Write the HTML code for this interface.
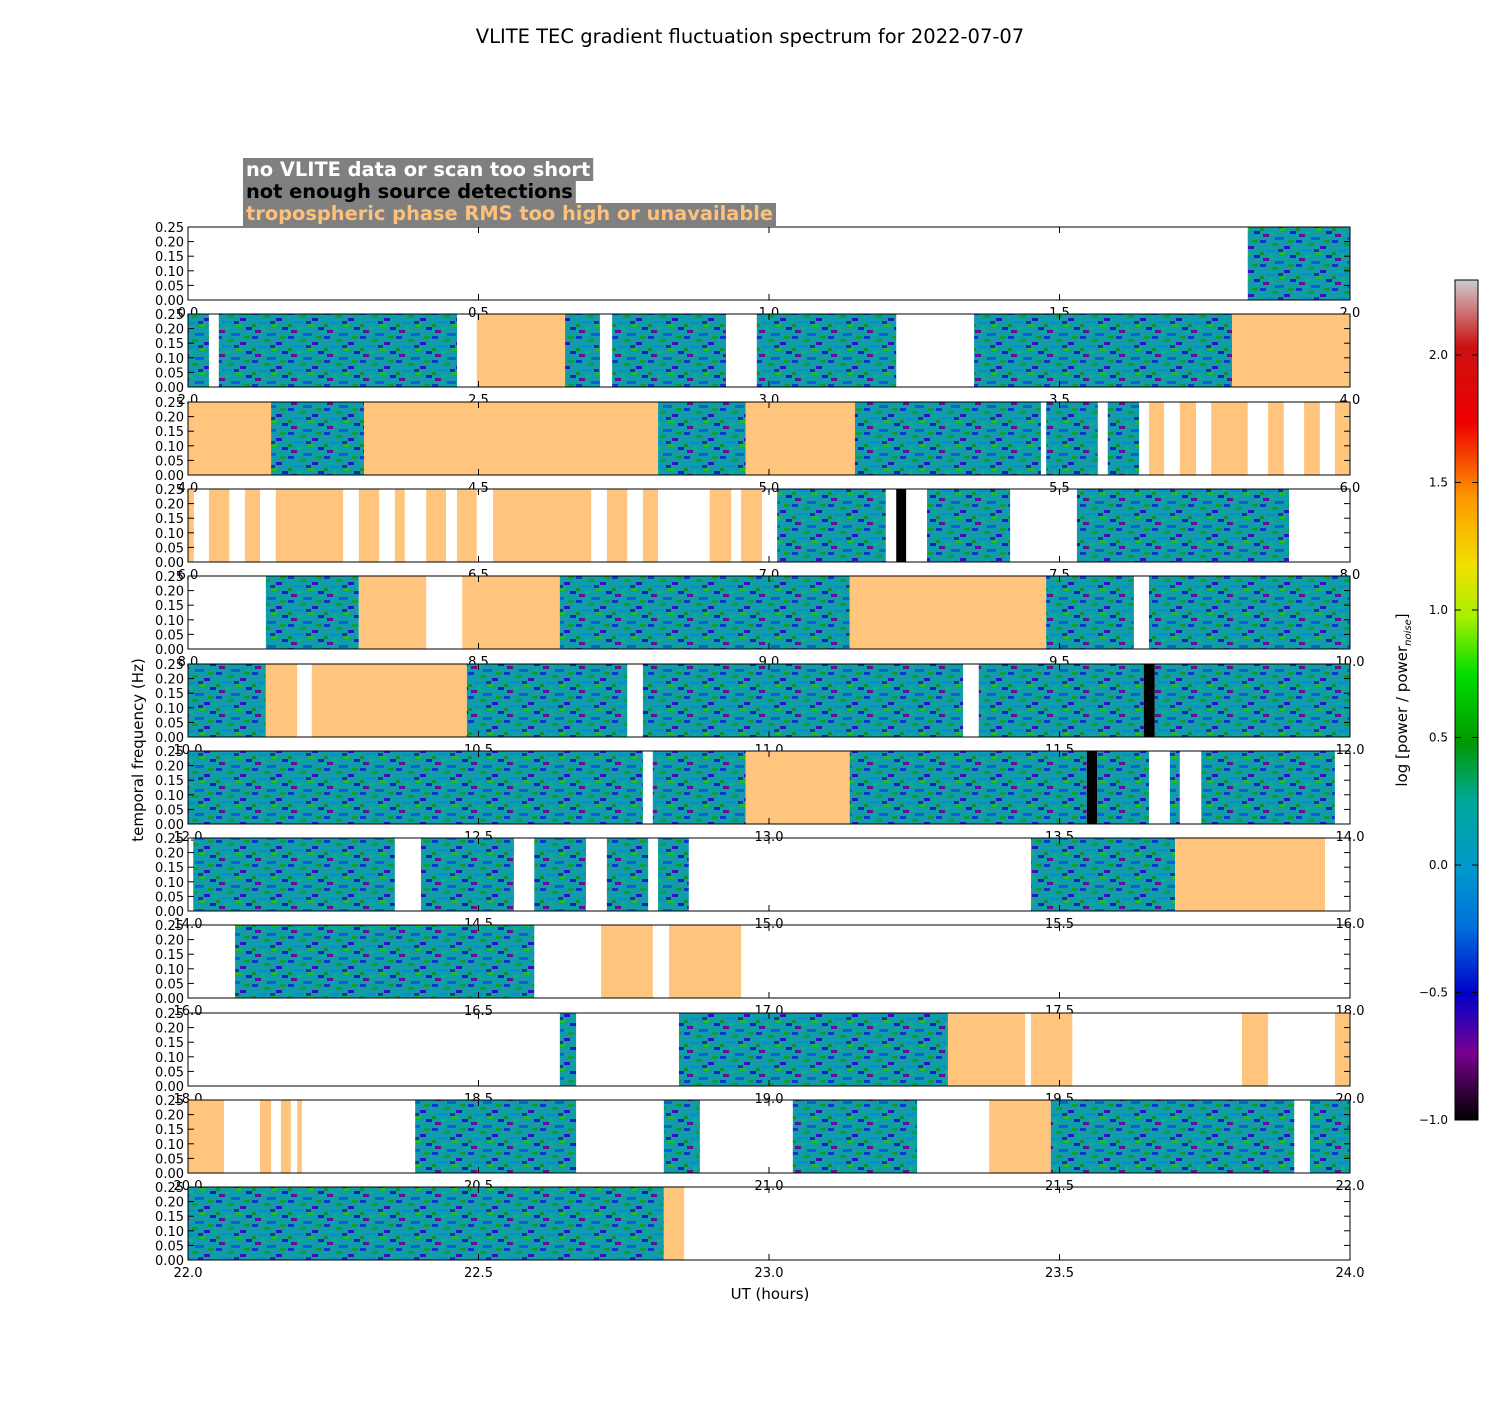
<!DOCTYPE html>
<html><head><meta charset="utf-8"><style>
body{margin:0;background:#fff;}
svg text{font-family:"DejaVu Sans","Liberation Sans",sans-serif;}
</style></head><body>
<svg id="chart" width="1500" height="1400" xmlns="http://www.w3.org/2000/svg">
<defs>
<pattern id="noise" width="36" height="24" patternUnits="userSpaceOnUse">
<rect width="36" height="24" fill="#129ca8"/>
<rect x="0" y="0" width="6" height="3" fill="#0a3ad0"/>
<rect x="12" y="3" width="6" height="3" fill="#10a020"/>
<rect x="24" y="6" width="6" height="3" fill="#3010c0"/>
<rect x="6" y="9" width="9" height="3" fill="#0090d8"/>
<rect x="20" y="12" width="6" height="3" fill="#22b830"/>
<rect x="30" y="15" width="6" height="3" fill="#1020c8"/>
<rect x="3" y="18" width="6" height="3" fill="#60109a"/>
<rect x="15" y="21" width="9" height="3" fill="#0c60d8"/>
<rect x="28" y="0" width="6" height="3" fill="#119a40"/>
<rect x="9" y="15" width="4" height="3" fill="#00c060"/>
<rect x="18" y="9" width="5" height="3" fill="#1a30b0"/>
<rect x="0" y="12" width="4" height="3" fill="#109030"/>
</pattern>
<linearGradient id="cmap" x1="0" y1="1" x2="0" y2="0">
<stop offset="0" stop-color="#000"/>
<stop offset="0.08" stop-color="#7a0090"/>
<stop offset="0.15" stop-color="#0000c8"/>
<stop offset="0.23" stop-color="#0070dd"/>
<stop offset="0.30" stop-color="#0099cc"/>
<stop offset="0.38" stop-color="#00a899"/>
<stop offset="0.45" stop-color="#009900"/>
<stop offset="0.53" stop-color="#00dd00"/>
<stop offset="0.60" stop-color="#aaf000"/>
<stop offset="0.66" stop-color="#f0e000"/>
<stop offset="0.74" stop-color="#ff9900"/>
<stop offset="0.83" stop-color="#ee0000"/>
<stop offset="0.92" stop-color="#cc1010"/>
<stop offset="1" stop-color="#cccccc"/>
</linearGradient>
</defs>
<text x="750" y="43" font-size="19.5" text-anchor="middle">VLITE TEC gradient fluctuation spectrum for 2022-07-07</text>
<g>
<rect id="lb1" x="243" y="158" width="350" height="23" fill="#808080"/>
<rect id="lb2" x="243" y="181" width="333" height="22" fill="#808080"/>
<rect id="lb3" x="243" y="203" width="533" height="23" fill="#808080"/>
<text id="lt1" x="246" y="176" font-size="19.4" font-weight="bold" fill="#fff">no VLITE data or scan too short</text>
<text id="lt2" x="246" y="198" font-size="19.4" font-weight="bold" fill="#000">not enough source detections</text>
<text id="lt3" x="246" y="220" font-size="19.4" font-weight="bold" fill="#ffc07a">tropospheric phase RMS too high or unavailable</text>
</g>
<g id="panels"></g>
<text x="770" y="1299" font-size="15" text-anchor="middle">UT (hours)</text>
<text transform="translate(143,750) rotate(-90)" font-size="15" text-anchor="middle">temporal frequency (Hz)</text>
<g>
<rect x="1455" y="280" width="23" height="840" fill="url(#cmap)" stroke="#000"/>
<g id="cbticks"></g>
<text transform="translate(1407,700) rotate(-90)" font-size="15" text-anchor="middle">log [power / power<tspan font-size="10" dy="4" font-style="italic">noise</tspan><tspan dy="-4">]</tspan></text>
</g>
</svg>
<script>
const segStart=[1.824,
2.0,2.053,2.497,2.649,2.730,2.979,3.353,3.797,
4.0,4.143,4.303,4.809,4.960,5.148,5.477,5.583,5.654,5.707,5.761,5.859,5.921,5.974,
6.0,6.036,6.098,6.151,6.294,6.356,6.410,6.463,6.525,6.721,6.783,6.898,6.952,7.014,7.219,7.272,7.530,
8.134,8.294,8.472,8.640,9.139,9.477,9.654,
10.0,10.134,10.213,10.480,10.783,11.361,11.645,11.664,
12.0,12.800,12.960,13.139,13.547,13.565,13.690,13.744,
14.009,14.401,14.596,14.721,14.809,15.451,15.699,
16.081,16.711,16.828,
18.640,18.845,19.308,19.451,19.814,19.974,
20.0,20.124,20.160,20.188,20.391,20.819,21.041,21.379,21.485,21.931,
22.0,22.819];
const segEnd=[2.0,
2.036,2.463,2.649,2.709,2.926,3.219,3.797,4.0,
4.143,4.303,4.809,4.960,5.148,5.468,5.566,5.637,5.680,5.735,5.824,5.886,5.948,6.0,
6.010,6.071,6.124,6.267,6.329,6.373,6.444,6.497,6.694,6.756,6.809,6.935,6.988,7.201,7.236,7.415,7.895,
8.294,8.410,8.640,9.139,9.477,9.628,10.0,
10.134,10.188,10.480,10.756,11.334,11.645,11.664,12.0,
12.783,12.960,13.139,13.547,13.565,13.654,13.707,13.974,
14.356,14.561,14.685,14.792,14.862,15.699,15.957,
16.596,16.800,16.952,
18.668,19.308,19.441,19.522,19.859,20.0,
20.062,20.143,20.177,20.196,20.668,20.881,21.255,21.485,21.904,22.0,
22.819,22.854];
const segType=['d',
'd','d','o','d','d','d','d','o',
'o','d','o','d','o','d','d','d','o','o','o','o','o','o',
'o','o','o','o','o','o','o','o','o','o','o','o','o','d','k','d','d',
'd','o','o','d','o','d','d',
'd','o','o','d','d','d','k','d',
'd','d','o','d','k','d','d','d',
'd','d','d','d','d','d','o',
'd','o','o',
'd','d','o','o','o','o',
'o','o','o','o','d','d','d','o','d','d',
'd','o'];
const yTicks=['0.00','0.05','0.10','0.15','0.20','0.25'];
const cbTicks=[-1.0,-0.5,0.0,0.5,1.0,1.5,2.0];

const NS='http://www.w3.org/2000/svg';
const X0=188,X1=1350,H=73,TOP0=227,STEP=87.3;
function xScale(h,base){return X0+(h-base)/2*(X1-X0);}
function yScale(f,top){return top+H-f/0.25*H;}
function mk(tag,attrs,parent){const e=document.createElementNS(NS,tag);for(const k in attrs)e.setAttribute(k,attrs[k]);parent.appendChild(e);return e;}
const root=document.getElementById('panels');
const fills={d:'url(#noise)',o:'#ffc57d',k:'#000'};
for(let p=0;p<12;p++){
  const top=Math.round(TOP0+p*STEP),base=p*2;
  const g=mk('g',{},root);
  
  
  for(let i=0;i<segStart.length;i++){
    if(segStart[i]<base-1e-6||segStart[i]>=base+2)continue;
    const x=xScale(segStart[i],base),w=xScale(segEnd[i],base)-x;
    const r=mk('rect',{x:x,y:top,width:w,height:H,fill:fills[segType[i]]},g);
    
    
  }
  const fr=mk('rect',{x:X0,y:top,width:X1-X0,height:H,fill:'none',stroke:'#000','stroke-width':1},g);
  
  
  yTicks.forEach(t=>{
    const y=yScale(parseFloat(t),top);
    mk('line',{x1:X0,x2:X0+6,y1:y,y2:y,stroke:'#000'},g);
    mk('line',{x1:X1-6,x2:X1,y1:y,y2:y,stroke:'#000'},g);
    const tx=mk('text',{x:184,y:y+5,'font-size':13,'text-anchor':'end'},g);
    tx.textContent=t;
    
    
  });
  for(let k=0;k<=4;k++){
    const h=base+k*0.5,x=xScale(h,base);
    mk('line',{x1:x,x2:x,y1:top+H,y2:top+H-6,stroke:'#000'},g);
    mk('line',{x1:x,x2:x,y1:top,y2:top+6,stroke:'#000'},g);
    const tx=mk('text',{x:x,y:top+H+17,'font-size':13,'text-anchor':'middle'},g);
    tx.textContent=h.toFixed(1);
    
    
  }
}
const cb=document.getElementById('cbticks');
cbTicks.forEach(v=>{
  const y=1120-(v+1)/3*765;
  mk('line',{x1:1455,x2:1461,y1:y,y2:y,stroke:'#000'},cb);
  mk('line',{x1:1472,x2:1478,y1:y,y2:y,stroke:'#000'},cb);
  const t=mk('text',{x:1448,y:y+4,'font-size':12,'text-anchor':'end'},cb);
  t.textContent=v.toFixed(1).replace('-','\u2212');
  
  
});
for(let i=1;i<=3;i++){
  const w=document.getElementById('lt'+i).getBBox().width;
  document.getElementById('lb'+i).setAttribute('width',w+6);
}
</script>
</body></html>
